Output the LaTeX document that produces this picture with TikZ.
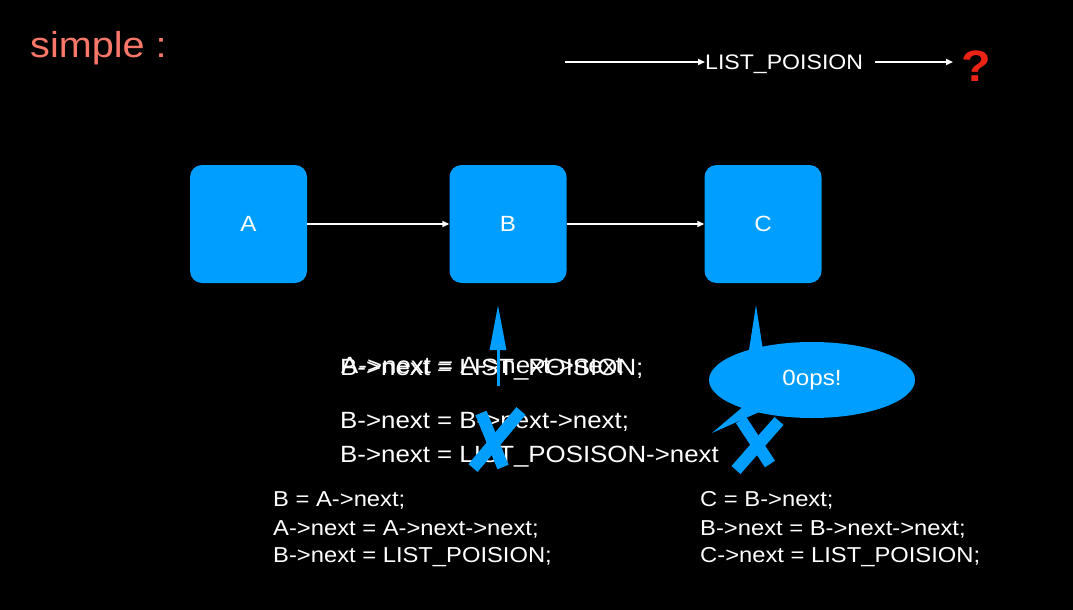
\documentclass[tikz,border=0pt]{standalone}
\usepackage{fontspec}
\setmainfont{Liberation Sans}[FakeStretch=1.1]
\usetikzlibrary{arrows.meta,shapes.geometric}
\definecolor{boxblue}{RGB}{0,159,255}
\definecolor{salmon}{RGB}{250,120,105}
\definecolor{qred}{RGB}{235,35,20}
\begin{document}
\begin{tikzpicture}[x=1pt,y=-1pt,
  box/.style={fill=boxblue,rounded corners=12pt,minimum width=117pt,minimum height=118pt,inner sep=0pt,text=white,font=\fontsize{22}{24}\selectfont},
  link/.style={white,line width=1.5pt,-{Triangle[length=7pt,width=6pt]}},
  code/.style={text=white,anchor=west,inner sep=0pt,font=\fontsize{23.5}{26}\selectfont},
  small/.style={text=white,anchor=west,inner sep=0pt,font=\fontsize{21.6}{24}\selectfont},
  cross/.style={boxblue,line width=12pt,line cap=butt}]
\fill[black] (0,0) rectangle (1073,610);
\useasboundingbox (0,0) rectangle (1073,610);
\node[text=salmon,anchor=west,inner sep=0pt,font=\fontsize{36}{40}\selectfont] (title) at (30,48) {simple :};
% top row
\coordinate (t0) at (565,62);
\node[text=white,anchor=west,inner sep=0pt,font=\fontsize{21}{24}\selectfont] (lp) at (705,64) {LIST\_POISION};
\node[text=qred,inner sep=0pt,font=\fontsize{44}{48}\bfseries\selectfont] (q) at (976,66) {?};
\draw[link] (t0) -- (lp.west |- t0);
\draw[link] ([xshift=12pt]lp.east |- t0) -- ([xshift=-8pt]q.west |- t0);
% boxes
\node[box] (A) at (248.5,224) {A};
\node[box] (B) at (508,224) {B};
\node[box] (C) at (763,224) {C};
\draw[link] (A) -- (B);
\draw[link] (B) -- (C);
% overlapped texts
\node[code] (l1) at (340,370) {B->next = LIST\_POISION;};
\node[code] (l0) at (341,366) {A->next = A->next->next};
% up arrow
\coordinate (u0) at (498,386);
\coordinate (u1) at (498,305);
\draw[boxblue,line width=3pt,-{Triangle[length=45pt,width=16pt]}] (u0) -- (u1);
\node[code] (l2) at (340,422) {B->next = B->next->next;};
\node[code] (l3) at (340,457) {B->next = LIST\_POSISON->next};
% crosses
\draw[cross] (473,468) -- (521,411);
\draw[cross] (481,413) -- (503,467);
\draw[cross] (736,470) -- (779,421);
\draw[cross] (741,420) -- (770,464);
% bubble
\fill[boxblue] (749,350) -- (756,305) -- (763,350) -- cycle;
\fill[boxblue] (745,405) -- (712,433) -- (775,405) -- cycle;
\node[ellipse,fill=boxblue,minimum width=206pt,minimum height=76pt,inner sep=0pt,text=white,font=\fontsize{22}{24}\selectfont] (oops) at (812,380) {0ops!};
% bottom code
\node[small] (b1) at (273,500) {B = A->next;};
\node[small] (b2) at (273,529) {A->next = A->next->next;};
\node[small] (b3) at (273,557) {B->next = LIST\_POISION;};
\node[small] (c1) at (700,500) {C = B->next;};
\node[small] (c2) at (700,529) {B->next = B->next->next;};
\node[small] (c3) at (700,557) {C->next = LIST\_POISION;};
\end{tikzpicture}
\end{document}
